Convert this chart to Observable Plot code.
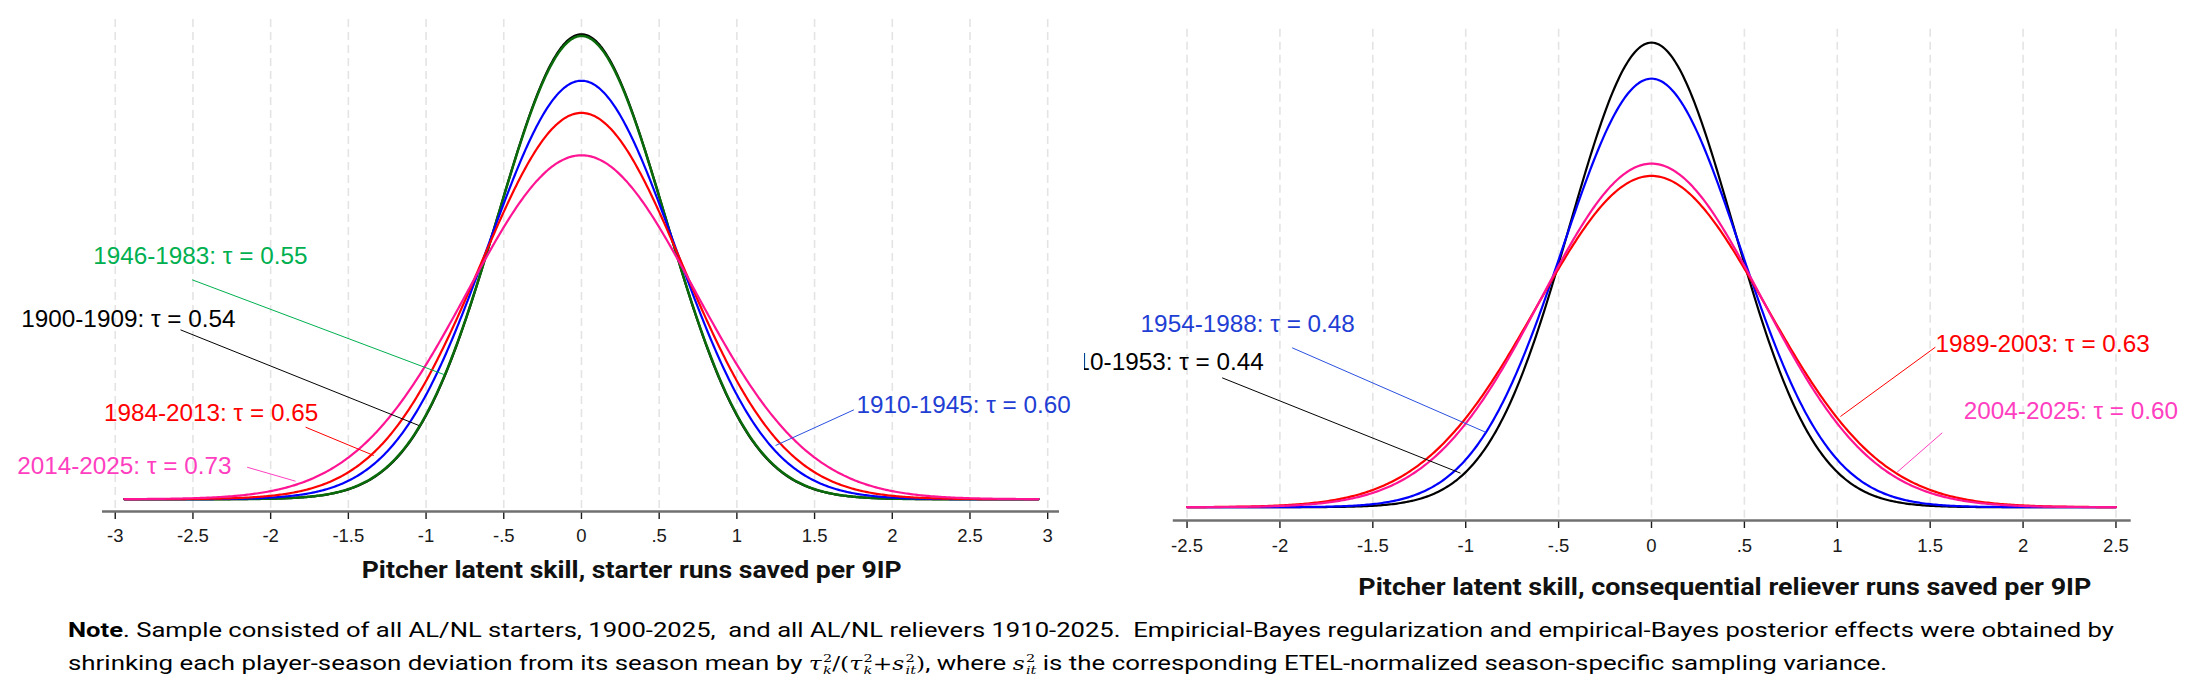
<!DOCTYPE html>
<html><head><meta charset="utf-8">
<script src="https://cdn.jsdelivr.net/npm/d3@7"></script>
<script src="https://cdn.jsdelivr.net/npm/@observablehq/plot@0.6"></script>
<style>
html,body{margin:0;padding:0;background:#fff;}
#wrap{position:relative;width:2202px;height:698px;overflow:hidden;background:#fff;}
#left{position:absolute;left:0;top:0;}
#right{position:absolute;left:1084px;top:0;}
#note{position:absolute;left:68px;top:614px;font-family:Roboto,"Liberation Sans",sans-serif;font-size:21px;line-height:33px;color:#000;white-space:nowrap;}
.ln{display:block;transform-origin:0 50%;height:33px;}
.inner{display:inline-block;}
.m{font-family:"DejaVu Serif","Liberation Serif",serif;font-style:italic;font-size:19px;}
.m .up{font-style:normal;}
.ss{display:inline-flex;flex-direction:column;font-size:0.62em;line-height:1.1;vertical-align:0.72em;margin-left:1px;}
.ss span:first-child{font-style:normal;}
</style></head>
<body><div id="wrap">
<div id="left"></div><div id="right"></div>
<div id="note">
<div class="ln" id="l1"><span class="inner"><b>Note</b>. Sample consisted of all AL/NL starters, 1900-2025,&nbsp; and all AL/NL relievers 1910-2025.&nbsp; Empiricial-Bayes regularization and empirical-Bayes posterior effects were obtained by</span></div>
<div class="ln" id="l2"><span class="inner">shrinking each player-season deviation from its season mean by <span class="m">τ<span class="ss"><span>2</span><span>k</span></span><span class="up">/(</span>τ<span class="ss"><span>2</span><span>k</span></span><span class="up">+</span>s<span class="ss"><span>2</span><span>it</span></span><span class="up">)</span></span>, where <span class="m">s<span class="ss"><span>2</span><span>it</span></span></span> is the corresponding ETEL-normalized season-specific sampling variance.</span></div>
</div>
</div>
<script>
// ---------------- data ----------------
const starterPeriods = ["1900-1909", "1910-1945", "1946-1983", "1984-2013", "2014-2025"];
const starterTau = [0.54, 0.60, 0.55, 0.65, 0.73];
// spread of the drawn starter curves (peak heights)
const starterCurveSd = [0.54, 0.60, 0.542, 0.65, 0.73];
const relieverPeriods = ["1910-1953", "1954-1988", "1989-2003", "2004-2025"];
const relieverTau = [0.44, 0.48, 0.63, 0.60];
// spread of the drawn reliever curves (peak heights)
const relieverCurveSd = [0.44, 0.477, 0.617, 0.595];
const starterRange = [-2.94, 2.94];
const relieverRange = [-2.5, 2.5];
const starterTicks = [-3, -2.5, -2, -1.5, -1, -0.5, 0, 0.5, 1, 1.5, 2, 2.5, 3];
const starterTickLabels = ["-3", "-2.5", "-2", "-1.5", "-1", "-.5", "0", ".5", "1", "1.5", "2", "2.5", "3"];
const relieverTicks = [-2.5, -2, -1.5, -1, -0.5, 0, 0.5, 1, 1.5, 2, 2.5];
const relieverTickLabels = ["-2.5", "-2", "-1.5", "-1", "-.5", "0", ".5", "1", "1.5", "2", "2.5"];
const starterTitle = "Pitcher latent skill, starter runs saved per 9IP";
const relieverTitle = "Pitcher latent skill, consequential reliever runs saved per 9IP";

// ---------------- styles ----------------
const starterCurveColors = ["#000000", "#0000ff", "#0a6b0a", "#ff0000", "#ff1493"];
const starterLabelColors = ["#000000", "#1f3fd4", "#00b050", "#ff0000", "#ff3fc0"];
const starterLeaderColors = ["#000000", "#2a50e0", "#00b050", "#ff0000", "#ff3fc0"];
const starterDrawOrder = [0, 2, 1, 3, 4];
const relieverCurveColors = ["#000000", "#0000ff", "#ff0000", "#ff1493"];
const relieverLabelColors = ["#000000", "#1f3fd4", "#ff0000", "#ff3fc0"];
const relieverLeaderColors = ["#000000", "#2a50e0", "#ff0000", "#ff3fc0"];
const relieverDrawOrder = [0, 1, 2, 3];

// annotation placement (data units)
const starterNotes = [
  {i: 0, tx: -3.605, ty: 0.2733, x1: -2.580, y1: 0.2691, x2: -1.046, y2: 0.1171},
  {i: 1, tx: 1.770, ty: 0.1373, x1: 1.753, y1: 0.1420, x2: 1.249, y2: 0.0853},
  {i: 2, tx: -3.142, ty: 0.374, x1: -2.505, y1: 0.3486, x2: -0.885, y2: 0.1981},
  {i: 3, tx: -3.073, ty: 0.1250, x1: -1.775, y1: 0.1144, x2: -1.336, y2: 0.0694},
  {i: 4, tx: -3.631, ty: 0.0404, x1: -2.151, y1: 0.0508, x2: -1.840, y2: 0.0286}
];
const relieverNotes = [
  {i: 0, tx: -2.087, ty: 0.2668, anchor: "end", x1: -2.311, y1: 0.2525, x2: -1.028, y2: 0.0664},
  {i: 1, tx: -2.750, ty: 0.3415, x1: -1.934, y1: 0.3111, x2: -0.8934, y2: 0.1464},
  {i: 2, tx: 1.528, ty: 0.3025, x1: 1.528, y1: 0.3123, x2: 1.017, y2: 0.1770},
  {i: 3, tx: 1.681, ty: 0.1725, x1: 1.565, y1: 0.1452, x2: 1.322, y2: 0.0683}
];

// normal density curve for a period's sd
const pdf = (x, s) => Math.exp(-x * x / (2 * s * s)) / (s * Math.sqrt(2 * Math.PI));
function curve(sd, range) {
  return d3.range(range[0], range[1] + 1e-9, 0.01).map(x => ({x, y: pdf(x, sd)}));
}

function panel(o) {
  const marks = [
    Plot.gridX(o.ticks, {stroke: "#e4e4e4", strokeOpacity: 1, strokeWidth: 1.6, strokeDasharray: "8,5"}),
    Plot.axisX(o.ticks, {tickSize: 8, tickPadding: o.tickPadding, tickFormat: (d) => o.tickLabels[o.ticks.indexOf(d)], fontSize: 18.5, color: "#1a1a1a", strokeWidth: 1.4, label: null}),
    Plot.ruleY([o.yDomain[0]], {stroke: "#707070", strokeWidth: 2.6})
  ];
  for (const k of o.order) {
    marks.push(Plot.line(curve(o.sd[k], o.range), {x: "x", y: "y", stroke: o.curveColors[k], strokeWidth: k === 2 && o.green ? 2.5 : 2.2}));
  }
  marks.push(Plot.link(o.notes, {x1: "x1", y1: "y1", x2: "x2", y2: "y2", stroke: d => o.leaderColors[d.i], strokeWidth: 1}));
  for (const n of o.notes) {
    marks.push(Plot.text([n], {x: "tx", y: "ty", text: d => `${o.periods[d.i]}: τ = ${o.tau[d.i].toFixed(2)}`,
      fill: o.labelColors[n.i], fontSize: 24.3, textAnchor: n.anchor || "start", lineAnchor: "bottom"}));
  }
  marks.push(Plot.text([o.title], {frameAnchor: "bottom", text: d => d, dx: o.titleDx, dy: o.titleDy, lineAnchor: "bottom",
    fontSize: 23, fontWeight: "bold", fill: "#111"}));
  const svg = Plot.plot({
    width: o.width, height: 600,
    marginLeft: o.ml, marginRight: o.mr, marginTop: o.mt, marginBottom: o.mb,
    x: {domain: o.xDomain},
    y: {domain: o.yDomain, axis: null},
    style: {fontFamily: "'Liberation Sans', Arial, sans-serif", background: "transparent", overflow: "hidden"},
    marks
  });
  d3.select(svg).selectAll("text").filter(function () { return this.textContent === o.title; })
    .attr("textLength", o.titleWidth).attr("lengthAdjust", "spacingAndGlyphs")
    .style("font-family", "Roboto, 'Liberation Sans', sans-serif");
  return svg;
}

document.getElementById("left").appendChild(panel({
  width: 1081, ml: 102, mr: 22, mt: 19, mb: 89,
  xDomain: [-3.082, 3.076], yDomain: [-0.01954, 0.7622],
  ticks: starterTicks, tickLabels: starterTickLabels, tickPadding: 9.6,
  sd: starterCurveSd, tau: starterTau, periods: starterPeriods, range: starterRange,
  curveColors: starterCurveColors, labelColors: starterLabelColors, leaderColors: starterLeaderColors,
  order: starterDrawOrder, notes: starterNotes, green: true,
  title: starterTitle, titleDx: 50.7, titleDy: 66, titleWidth: 540
}));
document.getElementById("right").appendChild(panel({
  width: 1118, ml: 88.8, mr: 71.3, mt: 28.7, mb: 80,
  xDomain: [-2.574, 2.582], yDomain: [-0.02596, 0.9329],
  ticks: relieverTicks, tickLabels: relieverTickLabels, tickPadding: 10.6,
  sd: relieverCurveSd, tau: relieverTau, periods: relieverPeriods, range: relieverRange,
  curveColors: relieverCurveColors, labelColors: relieverLabelColors, leaderColors: relieverLeaderColors,
  order: relieverDrawOrder, notes: relieverNotes, green: false,
  title: relieverTitle, titleDx: 72.6, titleDy: 74, titleWidth: 733
}));

// fit note lines to the reference widths
const targets = {l1: 2046, l2: 1819};
for (const id of ["l1", "l2"]) {
  const ln = document.getElementById(id);
  const w = ln.querySelector(".inner").getBoundingClientRect().width;
  ln.style.transform = `scaleX(${targets[id] / w})`;
}
</script>
</body></html>
